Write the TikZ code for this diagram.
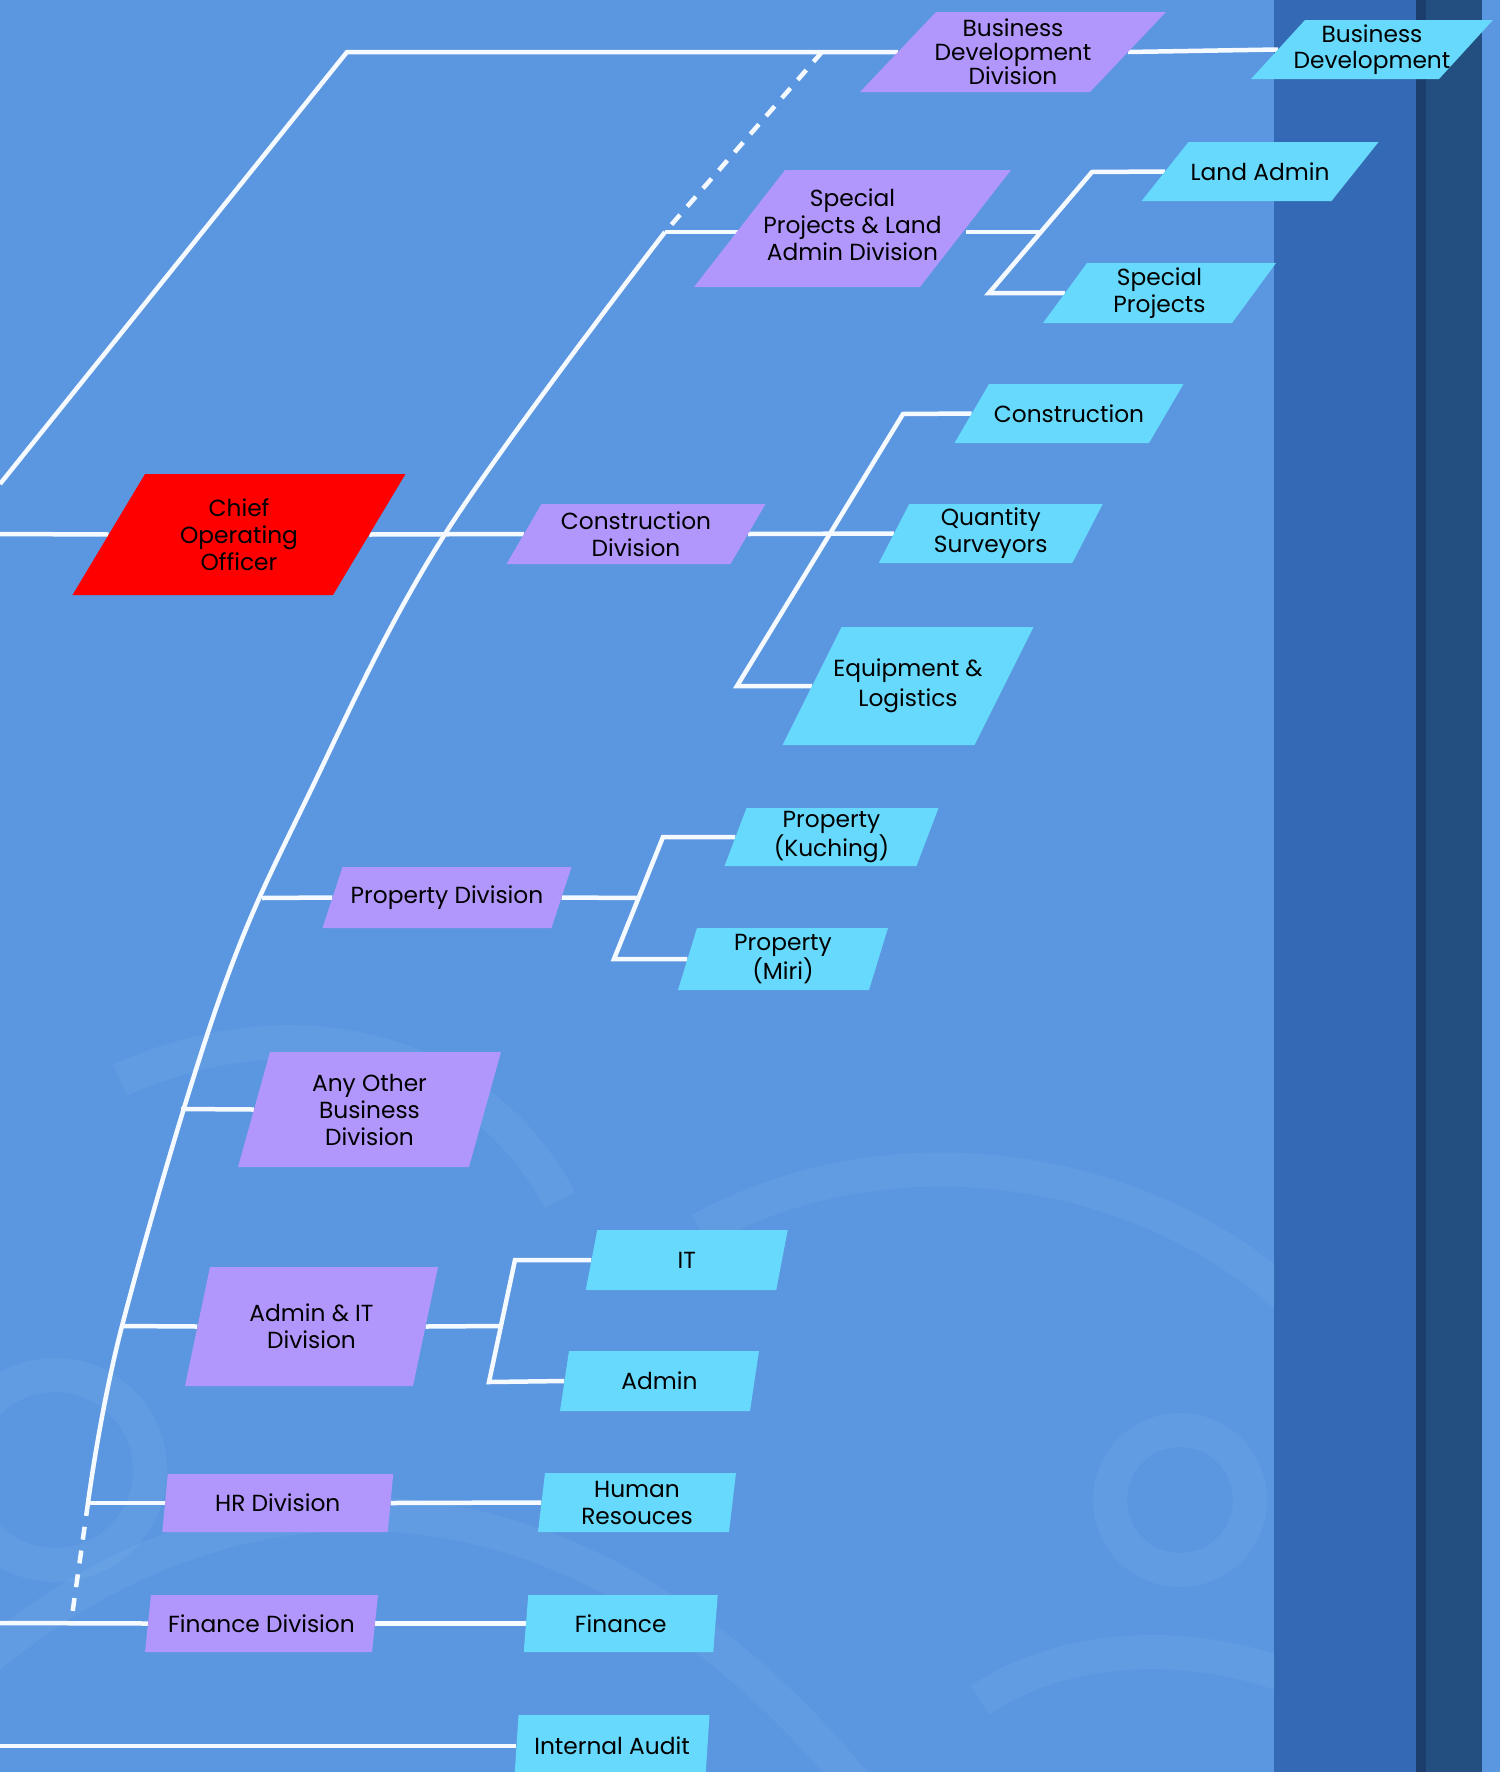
\documentclass[tikz,border=0pt]{standalone}
\usepackage{fontspec}
\setmainfont{Poppins}
\usetikzlibrary{calc}
\pgfdeclarelayer{bg}
\pgfdeclarelayer{lines}
\pgfsetlayers{bg,lines,main}
\definecolor{bgblue}{HTML}{5B96E0}
\definecolor{divpurple}{HTML}{B197FC}
\definecolor{unitcyan}{HTML}{66D9FD}
\definecolor{cooRed}{HTML}{FF0000}
\definecolor{stripeA}{HTML}{3469B5}
\definecolor{stripeB}{HTML}{234E80}
\definecolor{stripeC}{HTML}{1B3E6C}
\definecolor{swirlblue}{HTML}{8CC6F0}
\definecolor{linkwhite}{HTML}{F4FAFF}
\tikzset{
  box/.style={inner sep=0pt, align=center, font=\fontsize{23.3}{27}\selectfont, text=black},
  link/.style={draw=linkwhite, line width=4.5pt},
  dlink/.style={link, dash pattern=on 13pt off 11pt},
  swirl/.style={draw=swirlblue, line width=34pt, opacity=0.14},
}
% name, cx, cy, w, h, slant, fill, text, extra node options
\newcommand\pgbox[9]{%
  \fill[#7] ({#2-#4/2-#6/2},{#3+#5/2}) -- ({#2+#4/2-#6/2},{#3+#5/2})
    -- ({#2+#4/2+#6/2},{#3-#5/2}) -- ({#2-#4/2+#6/2},{#3-#5/2}) -- cycle;
  \node[box, minimum width=#4, minimum height=#5, #9] (#1) at (#2,#3) {#8};
}
\begin{document}
\begin{tikzpicture}[x=1pt,y=-1pt]
\useasboundingbox (0,0) rectangle (1500,1772);
\clip (0,0) rectangle (1500,1772);
\begin{pgfonlayer}{bg}
  \fill[bgblue] (0,0) rectangle (1500,1772);
  % faint background swirls
  \draw[swirl] (55,1470) circle (95);
  \draw[swirl] (-150,1800) .. controls (150,1420) and (560,1420) .. (860,1790);
  \draw[swirl] (120,1080) .. controls (300,1000) and (480,1050) .. (560,1200);
  \draw[swirl] (700,1230) .. controls (900,1120) and (1150,1170) .. (1290,1300);
  \draw[swirl] (1180,1500) circle (70);
  \draw[swirl] (980,1700) .. controls (1100,1620) and (1300,1640) .. (1420,1760);
  % right stripes
  \fill[stripeA] (1274,0) rectangle (1416,1772);
  \fill[stripeB] (1416,0) rectangle (1482,1772);
  \fill[stripeC] (1416,0) rectangle (1426,1772);
\end{pgfonlayer}

% boxes
\pgbox{bdd}{1013}{52}{230}{80}{76}{divpurple}{Business\\Development\\Division}{font=\fontsize{23.3}{24}\selectfont}
\pgbox{bd}{1372}{49.5}{188}{59}{54}{unitcyan}{Business\\Development}{font=\fontsize{23.3}{26}\selectfont}
\pgbox{splad}{852.5}{228.5}{226}{117}{91}{divpurple}{Special\\Projects \& Land\\Admin Division}{yshift=3.5pt}
\pgbox{la}{1260}{171.5}{190}{59}{47}{unitcyan}{Land Admin}{}
\pgbox{sp}{1159.5}{293}{189}{60}{44}{unitcyan}{Special\\Projects}{}
\pgbox{con}{1069}{413.5}{194.5}{59}{34.5}{unitcyan}{Construction}{}
\pgbox{qs}{990.75}{533.5}{193.5}{59}{30.5}{unitcyan}{Quantity\\Surveyors}{}
\pgbox{coo}{239}{534.5}{260.5}{121}{72.5}{cooRed}{Chief\\Operating\\Officer}{}
\pgbox{cd}{636}{534}{224}{60}{35}{divpurple}{Construction\\Division}{}
\pgbox{el}{908}{686}{192}{118}{59}{unitcyan}{Equipment \&\\Logistics}{font=\fontsize{23.3}{30}\selectfont}
\pgbox{pk}{831.5}{837}{192}{58}{22}{unitcyan}{Property\\(Kuching)}{}
\pgbox{pm}{783}{959}{191}{62}{19}{unitcyan}{Property\\(Miri)}{}
\pgbox{pd}{447}{897.5}{229}{61}{20}{divpurple}{Property Division}{}
\pgbox{ao}{369.5}{1109.5}{231}{115}{32}{divpurple}{Any Other\\Business\\Division}{}
\pgbox{ait}{311.5}{1326.5}{228}{119}{25}{divpurple}{Admin \& IT\\Division}{}
\pgbox{it}{686.75}{1260}{190.5}{60}{11.5}{unitcyan}{IT}{}
\pgbox{ad}{659.5}{1381}{190}{60}{9}{unitcyan}{Admin}{}
\pgbox{hrd}{277.75}{1503}{225.5}{58}{5.5}{divpurple}{HR Division}{}
\pgbox{hr}{637}{1502.5}{191}{59}{7}{unitcyan}{Human\\Resouces}{}
\pgbox{fd}{261.5}{1623.5}{227}{57}{6}{divpurple}{Finance Division}{}
\pgbox{fin}{620.75}{1623.5}{189.5}{57}{4.5}{unitcyan}{Finance}{}
\pgbox{ia}{612}{1746}{191}{62}{4}{unitcyan}{Internal Audit}{}

% connector coordinates
\coordinate (outerL) at (0,484);
\coordinate (outerC) at (347,52);
\coordinate (dTop) at (822,52);
\coordinate (s0) at (665,232);
\coordinate (s3) at (262,898);
\coordinate (s4) at (181,1109);
\coordinate (s5) at (122,1326);
\coordinate (s6) at (88,1503);
\coordinate (s7) at (71,1623);
\coordinate (cooL) at (0,534);
\coordinate (finL) at (0,1623);
\coordinate (iaL) at (0,1746);
\coordinate (stop) at (1092,172);
\coordinate (sbot) at (989,293);
\coordinate (sj) at (1041,232);
\coordinate (ctop) at (903,414);
\coordinate (cbot) at (737,686);
\coordinate (ptop) at (663,837);
\coordinate (pbot) at (614,959);
\coordinate (pj) at (638,898);
\coordinate (atop) at (515,1260);
\coordinate (abot) at (489,1382);
\coordinate (aj) at (501,1326);

\begin{pgfonlayer}{lines}
  \draw[link] (outerL) -- (outerC) -- (bdd.west);
  \draw[link] (bdd.east) -- (bd.west);
  \draw[dlink] (dTop) -- (s0);
  \draw[link] plot[smooth, tension=0.6] coordinates {(665,232) (445,534) (309,794) (219,1000) (122,1326) (88,1503)};
  \draw[dlink] (s6) -- (s7);
  \draw[link] (s0) -- (s0 -| splad.west);
  \draw[link] (splad.east |- sj) -- (sj);
  \draw[link] (la.west) -- (stop) -- (sbot) -- (sp.west);
  \draw[link] (cooL) -- (coo.west);
  \draw[link] (coo.east) -- (cd.west);
  \draw[link] (cd.east) -- (qs.west);
  \draw[link] (con.west) -- (ctop) -- (cbot) -- (el.west);
  \draw[link] (s3) -- (pd.west);
  \draw[link] (pd.east) -- (pj);
  \draw[link] (pk.west) -- (ptop) -- (pbot) -- (pm.west);
  \draw[link] (s4) -- (ao.west);
  \draw[link] (s5) -- (ait.west);
  \draw[link] (ait.east) -- (aj);
  \draw[link] (it.west) -- (atop) -- (abot) -- (ad.west);
  \draw[link] (s6) -- (hrd.west);
  \draw[link] (hrd.east) -- (hr.west);
  \draw[link] (finL) -- (fd.west);
  \draw[link] (fd.east) -- (fin.west);
  \draw[link] (iaL) -- (ia.west);
\end{pgfonlayer}
\end{tikzpicture}
\end{document}
